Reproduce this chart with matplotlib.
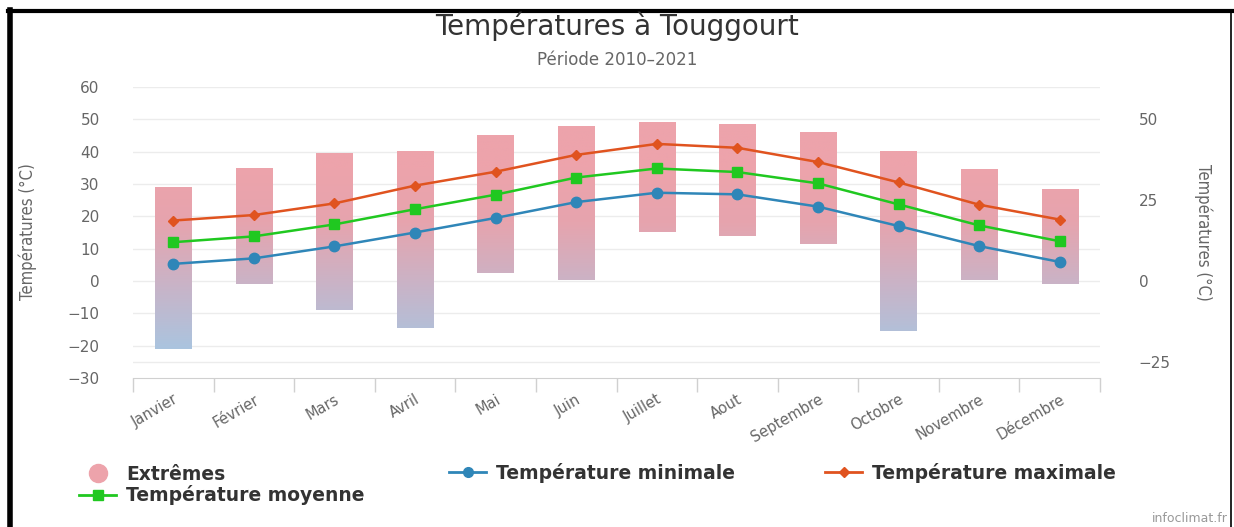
import matplotlib
matplotlib.use("Agg")
import matplotlib.pyplot as plt
import numpy as np
from matplotlib.colors import LinearSegmentedColormap
from matplotlib.lines import Line2D

# Data
months = ["Janvier", "Février", "Mars", "Avril", "Mai", "Juin", "Juillet",
          "Aout", "Septembre", "Octobre", "Novembre", "Décembre"]
extreme_low = [-21, -1, -9, -14.5, 2.5, 0.3, 15.3, 14, 11.5, -15.5, 0.3, -1]
extreme_high = [29.2, 35, 39.5, 40.2, 45.2, 48, 49.2, 48.5, 46, 40.3, 34.7, 28.5]
temp_min = [5.3, 7, 10.7, 15, 19.5, 24.4, 27.3, 26.8, 23, 17, 10.8, 5.9]
temp_mean = [12, 13.8, 17.5, 22.2, 26.7, 32, 34.8, 33.7, 30.2, 23.7, 17.2, 12.3]
temp_max = [18.7, 20.4, 24, 29.5, 33.8, 39, 42.4, 41.2, 36.8, 30.5, 23.6, 19]

left_ticks = [-30, -20, -10, 0, 10, 20, 30, 40, 50, 60]
right_ticks = [-25, 0, 25, 50]

grey = "#666666"
grid_col = "#ececec"
axis_col = "#d0d0d0"
c_min = "#2f86b8"
c_mean = "#20c820"
c_max = "#e0531f"

fig = plt.figure(figsize=(12.34, 5.27), dpi=100)
ax = fig.add_axes([133 / 1234, 1 - 378 / 527, (1100 - 133) / 1234, (378 - 87) / 527])

x = np.arange(len(months))

# extremes bars with a vertical pink -> blue gradient (blue below about -20, pink above 30)
cmap = LinearSegmentedColormap.from_list(
    "ext", [(0.0, "#a9c5e0"), (0.35, "#c8b4c8"), (0.7, "#e6a4ae"), (1.0, "#eda3ab")])
yy = np.linspace(-30, 60, 400)
grad = np.clip((yy + 22) / 57, 0, 1).reshape(-1, 1)
lo = np.array(extreme_low)
hi = np.array(extreme_high)
bars = ax.bar(x, hi - lo, bottom=lo, width=0.45, color="none", zorder=2)
for b in bars:
    bx = b.get_x()
    im = ax.imshow(grad, extent=(bx, bx + b.get_width(), -30, 60), origin="lower",
                   aspect="auto", cmap=cmap, vmin=0, vmax=1, zorder=2)
    im.set_clip_path(b)

ax.plot(x, temp_max, color=c_max, lw=1.8, marker="D", ms=5.5, zorder=4)
ax.plot(x, temp_mean, color=c_mean, lw=1.8, marker="s", ms=7, zorder=4)
ax.plot(x, temp_min, color=c_min, lw=1.8, marker="o", ms=7.5, zorder=4)

ax.set_xlim(-0.5, 11.5)
ax.set_ylim(-30, 60)
ax.set_yticks(left_ticks)
ax.set_yticklabels([str(t).replace("-", "\u2212") for t in left_ticks])
ax.tick_params(axis="y", length=0, pad=24, labelsize=11, labelcolor=grey)
for t in left_ticks[1:]:
    ax.axhline(t, color=grid_col, lw=1, zorder=0)
ax.axhline(-25, color=grid_col, lw=1, zorder=0)

ax.set_xticks(x)
ax.set_xticklabels(months, rotation=30, ha="right", rotation_mode="anchor",
                   fontsize=10.5, color=grey)
ax.tick_params(axis="x", length=0, pad=10)
ax.set_xticks(np.arange(-0.5, 12, 1), minor=True)
ax.tick_params(axis="x", which="minor", length=10, color=axis_col, width=1)

for s in ["top", "right", "left"]:
    ax.spines[s].set_visible(False)
ax.spines["bottom"].set_color(axis_col)

ax2 = ax.twinx()
ax2.set_ylim(-30, 60)
ax2.set_yticks(right_ticks)
ax2.set_yticklabels([str(t).replace("-", "\u2212") for t in right_ticks])
ax2.tick_params(axis="y", length=0, pad=28, labelsize=11, labelcolor=grey)
for s in ax2.spines.values():
    s.set_visible(False)

# titles and axis labels
fig.text(0.5, 1 - 26 / 527, "Températures à Touggourt", ha="center", va="center",
         fontsize=20, color="#333333")
fig.text(0.5, 1 - 60 / 527, "Période 2010\u20132021", ha="center", va="center",
         fontsize=12, color=grey)
fig.text(28 / 1234, 1 - 232 / 527, "Températures (°C)", rotation=90, ha="center",
         va="center", fontsize=12, color=grey, fontstretch="condensed")
fig.text(1203 / 1234, 1 - 232 / 527, "Températures (°C)", rotation=270, ha="center",
         va="center", fontsize=12, color=grey, fontstretch="condensed")

# legend
h_ext = Line2D([], [], ls="none", marker="o", ms=13, color="#eda3ab")
h_mean = Line2D([], [], color=c_mean, lw=2, marker="s", ms=7)
h_min = Line2D([], [], color=c_min, lw=2, marker="o", ms=7)
h_max = Line2D([], [], color=c_max, lw=2, marker="D", ms=5)
leg_kw = dict(frameon=False, prop={"weight": "bold", "size": 13.5}, handlelength=2.0,
              handletextpad=0.5, labelspacing=0.1, loc="center left", labelcolor="#333333")
fig.legend([h_ext, h_mean], ["Extrêmes", "Température moyenne"],
           bbox_to_anchor=(62 / 1234, 1 - 485 / 527), **leg_kw)
fig.legend([h_min], ["Température minimale"],
           bbox_to_anchor=(432 / 1234, 1 - 473 / 527), **leg_kw)
fig.legend([h_max], ["Température maximale"],
           bbox_to_anchor=(808 / 1234, 1 - 473 / 527), **leg_kw)

fig.text(1228 / 1234, 1 - 519 / 527, "infoclimat.fr", ha="right", va="center",
         fontsize=9, color="#999999")

# black frame around the picture
fig.add_artist(Line2D([10 / 1234, 10 / 1234], [0, 1 - 10 / 527], color="black", lw=4,
                      transform=fig.transFigure))
fig.add_artist(Line2D([8 / 1234, 1], [1 - 11 / 527, 1 - 11 / 527], color="black", lw=3,
                      transform=fig.transFigure))
fig.add_artist(Line2D([1231 / 1234, 1231 / 1234], [0, 1 - 11 / 527], color="black", lw=1.2,
                      transform=fig.transFigure))

fig.savefig("out.png", dpi=100)
